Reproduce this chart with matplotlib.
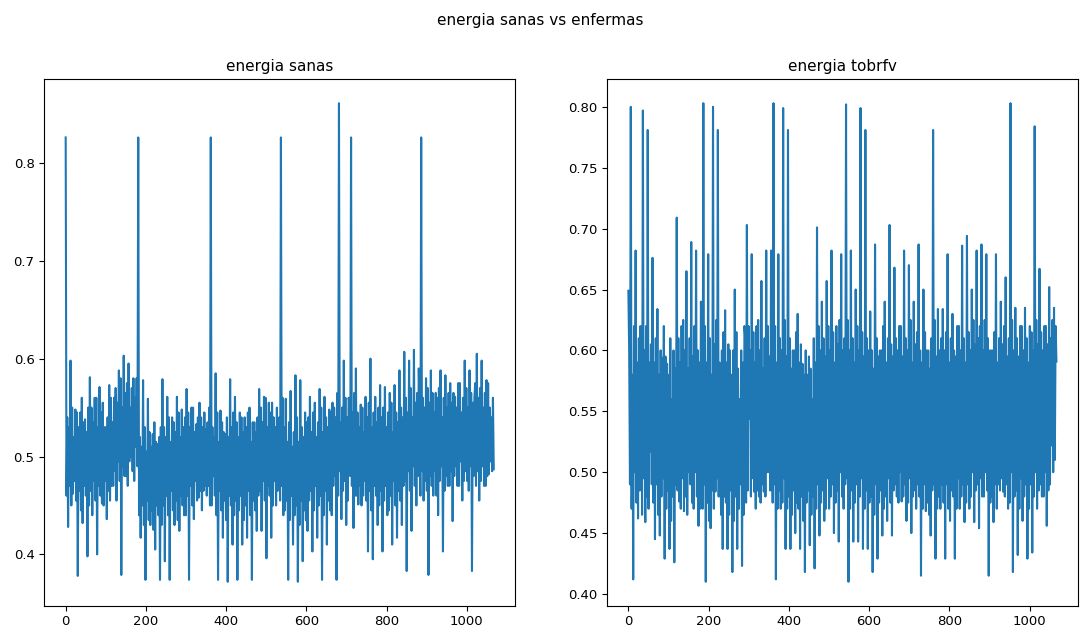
import matplotlib
matplotlib.use("Agg")
import matplotlib.pyplot as plt
import matplotlib.ticker as mticker
import numpy as np

# energia per image: the swing values every ~6 images
sanas = [
    0.826, 0.428, 0.598, 0.462, 0.548, 0.378, 0.545, 0.432, 0.538, 0.398,
    0.581, 0.440, 0.560, 0.400, 0.571, 0.452, 0.530, 0.436, 0.573, 0.470,
    0.560, 0.455, 0.588, 0.379, 0.603, 0.480, 0.595, 0.500, 0.580, 0.510,
    0.826, 0.417, 0.578, 0.374, 0.559, 0.430, 0.523, 0.405, 0.513, 0.374,
    0.579, 0.393, 0.561, 0.374, 0.540, 0.430, 0.561, 0.424, 0.548, 0.440,
    0.569, 0.374, 0.550, 0.436, 0.533, 0.458, 0.540, 0.465, 0.528, 0.470,
    0.826, 0.480, 0.585, 0.374, 0.547, 0.417, 0.523, 0.372, 0.579, 0.410,
    0.561, 0.374, 0.545, 0.410, 0.540, 0.417, 0.550, 0.374, 0.535, 0.424,
    0.569, 0.424, 0.561, 0.396, 0.555, 0.417, 0.540, 0.450, 0.535, 0.826,
    0.440, 0.559, 0.374, 0.567, 0.410, 0.583, 0.372, 0.578, 0.393, 0.545,
    0.424, 0.561, 0.403, 0.555, 0.417, 0.569, 0.374, 0.561, 0.410, 0.548,
    0.440, 0.550, 0.374, 0.861, 0.436, 0.598, 0.430, 0.560, 0.826, 0.427,
    0.590, 0.451, 0.553, 0.460, 0.561, 0.403, 0.600, 0.395, 0.561, 0.430,
    0.573, 0.403, 0.571, 0.440, 0.565, 0.410, 0.573, 0.417, 0.588, 0.430,
    0.607, 0.383, 0.598, 0.424, 0.609, 0.450, 0.590, 0.826, 0.455, 0.580,
    0.379, 0.588, 0.460, 0.565, 0.440, 0.588, 0.403, 0.583, 0.470, 0.575,
    0.434, 0.561, 0.470, 0.575, 0.455, 0.598, 0.475, 0.588, 0.383, 0.560,
    0.605, 0.455, 0.598, 0.470, 0.578, 0.482, 0.540, 0.487,
]
# upper / lower edge of the dense core between each pair of swings
sanas_core_hi = [
    0.54, 0.53, 0.55, 0.52, 0.545, 0.53, 0.56, 0.535, 0.525, 0.55,
    0.55, 0.535, 0.56, 0.53, 0.545, 0.555, 0.53, 0.54, 0.56, 0.535,
    0.57, 0.555, 0.58, 0.55, 0.565, 0.575, 0.55, 0.57, 0.56, 0.58,
    0.52, 0.51, 0.53, 0.505, 0.525, 0.51, 0.535, 0.515, 0.52, 0.53,
    0.53, 0.52, 0.54, 0.515, 0.535, 0.525, 0.545, 0.52, 0.53, 0.54,
    0.545, 0.53, 0.55, 0.525, 0.54, 0.555, 0.53, 0.545, 0.535, 0.55,
    0.53, 0.52, 0.545, 0.515, 0.535, 0.525, 0.54, 0.52, 0.53, 0.545,
    0.535, 0.52, 0.54, 0.525, 0.53, 0.545, 0.515, 0.535, 0.525, 0.54,
    0.55, 0.535, 0.56, 0.53, 0.545, 0.555, 0.53, 0.55, 0.54, 0.56,
    0.53, 0.515, 0.535, 0.51, 0.525, 0.54, 0.515, 0.53, 0.52, 0.535,
    0.54, 0.525, 0.545, 0.52, 0.535, 0.55, 0.525, 0.54, 0.53, 0.545,
    0.555, 0.54, 0.565, 0.535, 0.55, 0.56, 0.54, 0.555, 0.545, 0.565,
    0.545, 0.53, 0.55, 0.525, 0.54, 0.555, 0.53, 0.545, 0.535, 0.55,
    0.54, 0.55, 0.53, 0.545, 0.555, 0.525, 0.545, 0.535, 0.55, 0.54,
    0.56, 0.545, 0.57, 0.54, 0.555, 0.565, 0.545, 0.56, 0.55, 0.57,
    0.555, 0.565, 0.545, 0.56, 0.57, 0.54, 0.56, 0.55, 0.565, 0.555,
    0.565, 0.55, 0.575, 0.545, 0.56, 0.57, 0.55, 0.565, 0.555, 0.575,
    0.56, 0.57, 0.55, 0.565, 0.575, 0.55, 0.56,
]
sanas_core_lo = [
    0.46, 0.47, 0.45, 0.475, 0.455, 0.465, 0.445, 0.47, 0.46, 0.45,
    0.465, 0.475, 0.455, 0.47, 0.46, 0.45, 0.475, 0.465, 0.455, 0.47,
    0.485, 0.495, 0.475, 0.49, 0.48, 0.47, 0.495, 0.485, 0.475, 0.49,
    0.44, 0.45, 0.43, 0.455, 0.435, 0.445, 0.425, 0.45, 0.44, 0.43,
    0.45, 0.46, 0.44, 0.465, 0.445, 0.455, 0.435, 0.46, 0.45, 0.44,
    0.46, 0.47, 0.45, 0.475, 0.455, 0.465, 0.445, 0.47, 0.46, 0.45,
    0.45, 0.46, 0.44, 0.465, 0.445, 0.455, 0.435, 0.46, 0.45, 0.44,
    0.455, 0.445, 0.46, 0.435, 0.45, 0.465, 0.44, 0.455, 0.445, 0.46,
    0.465, 0.475, 0.455, 0.47, 0.46, 0.45, 0.475, 0.465, 0.455, 0.47,
    0.445, 0.455, 0.435, 0.46, 0.44, 0.45, 0.43, 0.455, 0.445, 0.435,
    0.455, 0.465, 0.445, 0.47, 0.45, 0.46, 0.44, 0.465, 0.455, 0.445,
    0.47, 0.48, 0.46, 0.485, 0.465, 0.475, 0.455, 0.48, 0.47, 0.46,
    0.46, 0.47, 0.45, 0.475, 0.455, 0.465, 0.445, 0.47, 0.46, 0.45,
    0.465, 0.455, 0.47, 0.445, 0.46, 0.475, 0.45, 0.465, 0.455, 0.47,
    0.475, 0.485, 0.465, 0.49, 0.47, 0.48, 0.46, 0.485, 0.475, 0.465,
    0.48, 0.47, 0.485, 0.46, 0.475, 0.49, 0.465, 0.48, 0.47, 0.485,
    0.48, 0.49, 0.47, 0.495, 0.475, 0.485, 0.465, 0.49, 0.48, 0.47,
    0.485, 0.475, 0.49, 0.47, 0.48, 0.495, 0.485,
]

tobrfv = [
    0.649, 0.800, 0.412, 0.682, 0.462, 0.620, 0.797, 0.459, 0.781, 0.517,
    0.676, 0.445, 0.634, 0.448, 0.594, 0.429, 0.589, 0.437, 0.560, 0.426,
    0.709, 0.476, 0.620, 0.468, 0.665, 0.500, 0.689, 0.470, 0.682, 0.456,
    0.640, 0.803, 0.410, 0.679, 0.454, 0.800, 0.484, 0.781, 0.520, 0.437,
    0.633, 0.437, 0.600, 0.418, 0.650, 0.437, 0.560, 0.423, 0.620, 0.703,
    0.544, 0.679, 0.484, 0.620, 0.480, 0.657, 0.484, 0.682, 0.500, 0.682,
    0.803, 0.412, 0.679, 0.470, 0.799, 0.437, 0.781, 0.437, 0.600, 0.450,
    0.630, 0.437, 0.589, 0.418, 0.580, 0.440, 0.560, 0.421, 0.701, 0.448,
    0.640, 0.460, 0.657, 0.470, 0.682, 0.450, 0.620, 0.443, 0.679, 0.470,
    0.802, 0.410, 0.682, 0.443, 0.650, 0.443, 0.799, 0.437, 0.781, 0.437,
    0.632, 0.418, 0.687, 0.429, 0.600, 0.448, 0.640, 0.460, 0.703, 0.448,
    0.668, 0.480, 0.620, 0.476, 0.682, 0.460, 0.670, 0.450, 0.640, 0.470,
    0.687, 0.415, 0.650, 0.468, 0.600, 0.448, 0.781, 0.429, 0.634, 0.470,
    0.634, 0.429, 0.679, 0.460, 0.630, 0.429, 0.620, 0.470, 0.686, 0.459,
    0.694, 0.470, 0.650, 0.459, 0.682, 0.454, 0.687, 0.480, 0.679, 0.415,
    0.600, 0.459, 0.679, 0.490, 0.640, 0.484, 0.660, 0.470, 0.803, 0.418,
    0.635, 0.432, 0.620, 0.460, 0.635, 0.429, 0.620, 0.434, 0.784, 0.470,
    0.667, 0.480, 0.620, 0.456, 0.652, 0.522, 0.635, 0.591,
]
tobrfv_core_hi = [
    0.60, 0.58, 0.62, 0.59, 0.61, 0.585, 0.60, 0.62, 0.59, 0.605,
    0.59, 0.61, 0.58, 0.60, 0.62, 0.595, 0.58, 0.61, 0.60, 0.585,
    0.61, 0.59, 0.625, 0.60, 0.585, 0.61, 0.595, 0.62, 0.60, 0.59,
    0.60, 0.62, 0.59, 0.61, 0.58, 0.605, 0.625, 0.59, 0.60, 0.615,
    0.59, 0.605, 0.58, 0.60, 0.615, 0.585, 0.60, 0.59, 0.61, 0.62,
    0.60, 0.615, 0.59, 0.625, 0.60, 0.585, 0.61, 0.62, 0.595, 0.605,
    0.62, 0.59, 0.61, 0.60, 0.625, 0.595, 0.61, 0.585, 0.60, 0.615,
    0.59, 0.605, 0.58, 0.60, 0.595, 0.585, 0.61, 0.59, 0.62, 0.60,
    0.61, 0.595, 0.62, 0.60, 0.615, 0.59, 0.605, 0.625, 0.60, 0.61,
    0.625, 0.60, 0.61, 0.59, 0.62, 0.60, 0.615, 0.595, 0.61, 0.60,
    0.60, 0.585, 0.61, 0.595, 0.60, 0.62, 0.59, 0.61, 0.605, 0.595,
    0.61, 0.60, 0.62, 0.595, 0.61, 0.60, 0.625, 0.59, 0.605, 0.615,
    0.60, 0.59, 0.615, 0.60, 0.585, 0.61, 0.625, 0.595, 0.60, 0.61,
    0.60, 0.615, 0.59, 0.61, 0.60, 0.595, 0.62, 0.60, 0.61, 0.59,
    0.615, 0.60, 0.625, 0.605, 0.61, 0.62, 0.60, 0.625, 0.61, 0.60,
    0.60, 0.615, 0.59, 0.61, 0.605, 0.62, 0.595, 0.61, 0.625, 0.60,
    0.61, 0.595, 0.62, 0.60, 0.61, 0.59, 0.615, 0.60, 0.625, 0.605,
    0.615, 0.60, 0.62, 0.605, 0.61, 0.625, 0.62,
]
tobrfv_core_lo = [
    0.49, 0.47, 0.50, 0.475, 0.485, 0.465, 0.495, 0.48, 0.47, 0.49,
    0.475, 0.49, 0.465, 0.48, 0.495, 0.47, 0.485, 0.46, 0.48, 0.49,
    0.485, 0.47, 0.495, 0.48, 0.465, 0.49, 0.475, 0.50, 0.48, 0.47,
    0.47, 0.49, 0.475, 0.46, 0.485, 0.47, 0.495, 0.48, 0.465, 0.48,
    0.475, 0.465, 0.485, 0.46, 0.48, 0.47, 0.49, 0.465, 0.475, 0.485,
    0.48, 0.495, 0.47, 0.485, 0.475, 0.49, 0.48, 0.50, 0.485, 0.475,
    0.49, 0.47, 0.485, 0.475, 0.495, 0.47, 0.48, 0.465, 0.485, 0.475,
    0.47, 0.48, 0.46, 0.475, 0.485, 0.465, 0.48, 0.47, 0.49, 0.475,
    0.485, 0.47, 0.495, 0.48, 0.49, 0.475, 0.485, 0.50, 0.48, 0.49,
    0.495, 0.47, 0.485, 0.475, 0.49, 0.48, 0.495, 0.47, 0.485, 0.475,
    0.48, 0.465, 0.49, 0.475, 0.485, 0.47, 0.48, 0.495, 0.475, 0.485,
    0.49, 0.475, 0.50, 0.48, 0.49, 0.475, 0.495, 0.48, 0.485, 0.49,
    0.48, 0.47, 0.49, 0.475, 0.465, 0.485, 0.49, 0.47, 0.48, 0.49,
    0.475, 0.49, 0.47, 0.485, 0.48, 0.47, 0.495, 0.48, 0.49, 0.475,
    0.49, 0.48, 0.50, 0.485, 0.49, 0.495, 0.48, 0.50, 0.485, 0.475,
    0.48, 0.49, 0.47, 0.485, 0.495, 0.48, 0.49, 0.475, 0.50, 0.48,
    0.485, 0.47, 0.495, 0.48, 0.49, 0.47, 0.49, 0.48, 0.50, 0.485,
    0.49, 0.48, 0.50, 0.485, 0.49, 0.50, 0.51,
]

n_images = 1067  # last image index on the x axis


def weave(swings, core_lo, core_hi):
    """Put the two core values between consecutive swings so the line flips each step."""
    out = [swings[0]]
    for i in range(len(swings) - 1):
        lo, hi = core_lo[i], core_hi[i]
        out += [lo, hi] if swings[i] > swings[i + 1] else [hi, lo]
        out.append(swings[i + 1])
    return np.array(out)


fig, (ax1, ax2) = plt.subplots(1, 2, figsize=(10.8, 6.29), dpi=100)
fig.subplots_adjust(left=0.041, right=0.998, bottom=0.037, top=0.874, wspace=0.195)

paneles = [
    (ax1, weave(sanas, sanas_core_lo, sanas_core_hi), "energia sanas"),
    (ax2, weave(tobrfv, tobrfv_core_lo, tobrfv_core_hi), "energia tobrfv"),
]
for ax, serie, titulo in paneles:
    x = np.linspace(0, n_images, len(serie))
    ax.plot(x, serie, color="#1f77b4", lw=1.5)
    ax.set_title(titulo, fontsize=11)
    ax.tick_params(labelsize=9.5)
    ax.set_xticks([0, 200, 400, 600, 800, 1000])

ax1.set_yticks([0.4, 0.5, 0.6, 0.7, 0.8])
ax2.set_yticks(np.arange(0.40, 0.801, 0.05))
ax2.yaxis.set_major_formatter(mticker.FormatStrFormatter("%.2f"))

fig.suptitle("energia sanas vs enfermas", fontsize=11)
fig.savefig("out.png", dpi=100)
